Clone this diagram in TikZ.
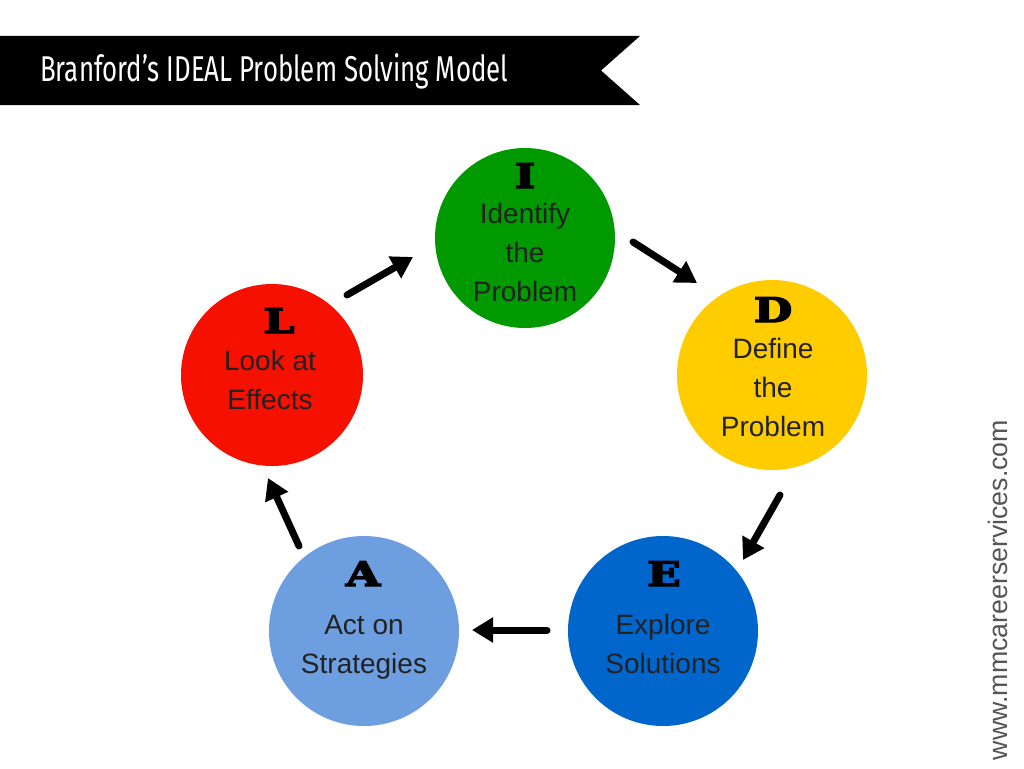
\documentclass[tikz,border=0pt]{standalone}
\usepackage{fontspec}
\setmainfont{Liberation Sans}
\newfontfamily\titlefont[FakeStretch=0.72]{Fira Sans}
\newfontfamily\letterfont[FakeBold=4]{DejaVu Serif}
\usetikzlibrary{arrows.meta}
\definecolor{cgreen}{HTML}{009A00}
\definecolor{cyellow}{HTML}{FFCC00}
\definecolor{cblue}{HTML}{0066CC}
\definecolor{clight}{HTML}{6D9EE0}
\definecolor{cred}{HTML}{F51000}
\definecolor{ctext}{HTML}{222222}
\definecolor{cside}{HTML}{555555}
\tikzset{
  stage/.style={circle, inner sep=0pt, minimum size=#1},
  stage/.default=186pt,
  lab/.style={text=ctext, font=\fontsize{28}{39}\selectfont, align=center, anchor=base, inner sep=0pt},
  letter/.style={text=black, font=\letterfont\bfseries\fontsize{34}{34}\selectfont, anchor=base, inner sep=0pt},
  flow/.style={line width=7pt, line cap=round, -{Triangle[length=21pt,width=24pt]}},
}
\begin{document}
\begin{tikzpicture}[x=1pt,y=-1pt]
\useasboundingbox (0,0) rectangle (1024,768);
\fill[white] (0,0) rectangle (1024,768);
% banner
\fill[black] (0,36) -- (640,36) -- (601,70.5) -- (640,105) -- (0,105) -- cycle;
\node[text=white, anchor=base west, inner sep=0pt] (title) at (40,81)
  {\resizebox{468pt}{!}{\titlefont\fontsize{36}{36}\selectfont Branford’s IDEAL Problem Solving Model}};
% circles
\node[stage=180pt, fill=cgreen] (I) at (525,238) {};
\node[stage=190pt, fill=cyellow] (D) at (772,375) {};
\node[stage=190pt, fill=cblue] (E) at (663,631) {};
\node[stage=190pt, fill=clight] (A) at (364,631) {};
\node[stage=182pt, fill=cred] (L) at (272,375) {};
% letters
\node[letter] (lI) at (525,188) {\scalebox{1.3}[1]{I}};
\node[letter] (lD) at (773,322) {\scalebox{1.3}[1]{D}};
\node[letter] (lE) at (664,586) {\scalebox{1.3}[1]{E}};
\node[letter] (lA) at (363,586) {\scalebox{1.3}[1]{A}};
\node[letter] (lL) at (279,333) {\scalebox{1.3}[1]{L}};
% labels (anchored at baseline of last line)
\node[lab] (tI) at (525,301) {Identify\\the\\Problem};
\node[lab] (tD) at (773,436) {Define\\the\\Problem};
\node[lab] (tE) at (663,673) {Explore\\Solutions};
\node[lab] (tA) at (364,673) {Act on\\Strategies};
\node[lab] (tL) at (270,409) {Look at\\Effects};
% arrow ends
\coordinate (LIs) at (347,295); \coordinate (LIe) at (413,257);
\coordinate (IDs) at (633,242); \coordinate (IDe) at (697,283);
\coordinate (DEs) at (780,495); \coordinate (DEe) at (743,560);
\coordinate (EAs) at (547,630); \coordinate (EAe) at (472,630);
\coordinate (ALs) at (299,546); \coordinate (ALe) at (268,478);
\draw[flow] (LIs) -- (LIe);
\draw[flow] (IDs) -- (IDe);
\draw[flow] (DEs) -- (DEe);
\draw[flow] (EAs) -- (EAe);
\draw[flow] (ALs) -- (ALe);
% side text
\node[rotate=90, text=cside, inner sep=0pt] (site) at (998,590)
  {\resizebox{340pt}{!}{www.mmcareerservices.com}};
\end{tikzpicture}
\end{document}
